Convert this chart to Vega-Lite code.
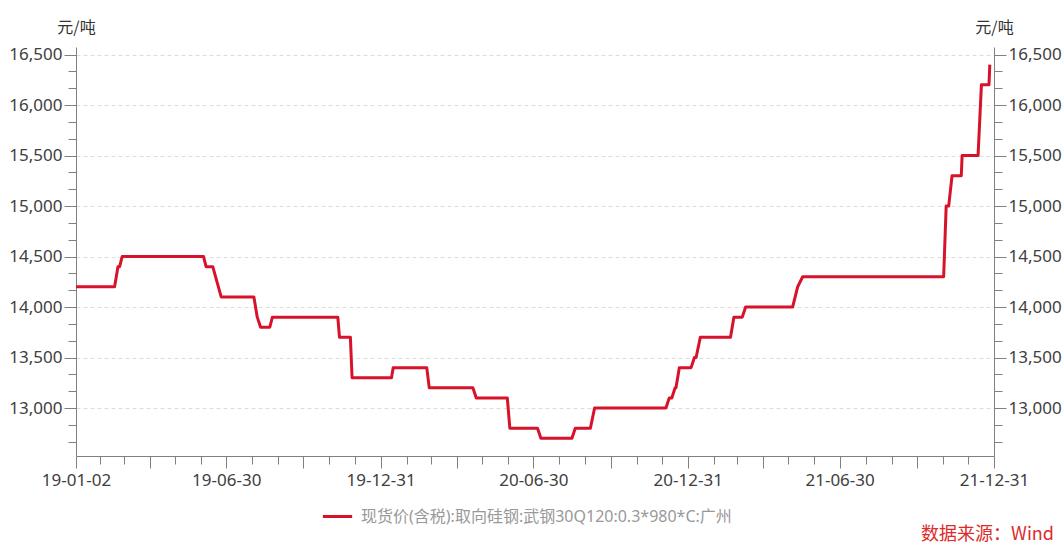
{
  "$schema": "https://vega.github.io/schema/vega-lite/v6.json",
  "width": 918,
  "height": 409,
  "autosize": {"type": "none"},
  "padding": {"left": 76, "top": 47, "right": 68, "bottom": 91},
  "background": "white",
  "title": {"text": "数据来源：Wind", "orient": "bottom", "anchor": "end", "frame": "group", "color": "#dd2a2a", "font": "Noto Sans CJK SC", "fontSize": 18, "fontWeight": "normal", "dx": 60, "offset": 1},
  "config": {"view": {"stroke": null}},
  "data": {"values": [
    {"date": "2019-01-02", "price": 14200},
    {"date": "2019-02-17", "price": 14200},
    {"date": "2019-02-21", "price": 14400},
    {"date": "2019-02-23", "price": 14400},
    {"date": "2019-02-26", "price": 14500},
    {"date": "2019-06-03", "price": 14500},
    {"date": "2019-06-06", "price": 14400},
    {"date": "2019-06-14", "price": 14400},
    {"date": "2019-06-24", "price": 14100},
    {"date": "2019-08-02", "price": 14100},
    {"date": "2019-08-06", "price": 13900},
    {"date": "2019-08-10", "price": 13800},
    {"date": "2019-08-21", "price": 13800},
    {"date": "2019-08-24", "price": 13900},
    {"date": "2019-11-10", "price": 13900},
    {"date": "2019-11-12", "price": 13700},
    {"date": "2019-11-25", "price": 13700},
    {"date": "2019-11-27", "price": 13300},
    {"date": "2020-01-13", "price": 13300},
    {"date": "2020-01-15", "price": 13400},
    {"date": "2020-02-24", "price": 13400},
    {"date": "2020-02-27", "price": 13200},
    {"date": "2020-04-19", "price": 13200},
    {"date": "2020-04-23", "price": 13100},
    {"date": "2020-05-30", "price": 13100},
    {"date": "2020-06-02", "price": 12800},
    {"date": "2020-07-05", "price": 12800},
    {"date": "2020-07-09", "price": 12700},
    {"date": "2020-08-15", "price": 12700},
    {"date": "2020-08-19", "price": 12800},
    {"date": "2020-09-06", "price": 12800},
    {"date": "2020-09-11", "price": 13000},
    {"date": "2020-12-05", "price": 13000},
    {"date": "2020-12-09", "price": 13100},
    {"date": "2020-12-12", "price": 13100},
    {"date": "2020-12-16", "price": 13200},
    {"date": "2020-12-17", "price": 13200},
    {"date": "2020-12-21", "price": 13400},
    {"date": "2021-01-04", "price": 13400},
    {"date": "2021-01-08", "price": 13500},
    {"date": "2021-01-10", "price": 13500},
    {"date": "2021-01-15", "price": 13700},
    {"date": "2021-02-20", "price": 13700},
    {"date": "2021-02-24", "price": 13900},
    {"date": "2021-03-06", "price": 13900},
    {"date": "2021-03-10", "price": 14000},
    {"date": "2021-05-05", "price": 14000},
    {"date": "2021-05-11", "price": 14200},
    {"date": "2021-05-17", "price": 14300},
    {"date": "2021-11-01", "price": 14300},
    {"date": "2021-11-04", "price": 15000},
    {"date": "2021-11-07", "price": 15000},
    {"date": "2021-11-11", "price": 15300},
    {"date": "2021-11-22", "price": 15300},
    {"date": "2021-11-23", "price": 15500},
    {"date": "2021-12-12", "price": 15500},
    {"date": "2021-12-16", "price": 16200},
    {"date": "2021-12-25", "price": 16200},
    {"date": "2021-12-26", "price": 16400}
  ]},
  "layer": [
    {
      "mark": {"type": "line", "strokeWidth": 3, "strokeJoin": "round"},
      "encoding": {
        "x": {"field": "date", "type": "temporal",
          "scale": {"type": "utc", "domain": [{"year": 2019, "month": 1, "date": 2, "utc": true}, {"year": 2021, "month": 12, "date": 31, "utc": true}]},
          "axis": {"orient": "bottom", "title": null, "grid": false,
            "values": [
              {"year": 2019, "month": 1, "date": 2, "utc": true},
              {"year": 2019, "month": 3, "date": 31, "utc": true},
              {"year": 2019, "month": 6, "date": 30, "utc": true},
              {"year": 2019, "month": 9, "date": 30, "utc": true},
              {"year": 2019, "month": 12, "date": 31, "utc": true},
              {"year": 2020, "month": 3, "date": 31, "utc": true},
              {"year": 2020, "month": 6, "date": 30, "utc": true},
              {"year": 2020, "month": 9, "date": 30, "utc": true},
              {"year": 2020, "month": 12, "date": 31, "utc": true},
              {"year": 2021, "month": 3, "date": 31, "utc": true},
              {"year": 2021, "month": 6, "date": 30, "utc": true},
              {"year": 2021, "month": 9, "date": 30, "utc": true},
              {"year": 2021, "month": 12, "date": 31, "utc": true}
            ],
            "labelExpr": "(utcmonth(datum.value) == 2 || utcmonth(datum.value) == 8) ? '' : utcFormat(datum.value, '%y-%m-%d')",
            "tickSize": 12, "tickColor": "#808080", "domainColor": "#808080",
            "labelFont": "Noto Sans", "labelFontSize": 17, "labelColor": "#404040", "labelPadding": 4,
            "labelFlush": false, "labelOverlap": false, "labelBound": false}
        },
        "y": {"field": "price", "type": "quantitative",
          "scale": {"domain": [12525, 16575], "zero": false, "nice": false},
          "axis": {"orient": "left",
            "values": [13000, 13500, 14000, 14500, 15000, 15500, 16000, 16500],
            "format": ",.0f", "tickSize": 12, "tickColor": "#808080", "domainColor": "#808080",
            "labelFont": "Noto Sans", "labelFontSize": 17, "labelColor": "#404040", "labelPadding": 2,
            "grid": true, "gridColor": "#dcdcdc", "gridDash": [4, 3],
            "title": "元/吨", "titleAngle": 0, "titleX": 0, "titleY": -20, "titleAlign": "center", "titleBaseline": "middle",
            "titleFont": "Noto Sans CJK SC", "titleFontSize": 16, "titleFontWeight": "normal", "titleColor": "#333333"}
        },
        "color": {"datum": "现货价(含税):取向硅钢:武钢30Q120:0.3*980*C:广州",
          "scale": {"range": ["#D7132B"]},
          "legend": {"orient": "none", "legendX": 245, "legendY": 453, "title": null, "padding": 0,
            "symbolType": "stroke", "symbolSize": 860, "symbolStrokeWidth": 3,
            "labelFont": "'Noto Sans', 'Noto Sans CJK SC'", "labelFontSize": 16, "labelColor": "#999999",
            "labelLimit": 1000, "labelOffset": 7}
        }
      }
    },
    {
      "mark": {"type": "line", "opacity": 0},
      "encoding": {
        "x": {"field": "date", "type": "temporal",
          "axis": {"orient": "bottom", "title": null, "grid": false, "labels": false, "domain": false,
            "values": [
              {"year": 2019, "month": 1, "date": 31, "utc": true},
              {"year": 2019, "month": 2, "date": 28, "utc": true},
              {"year": 2019, "month": 4, "date": 30, "utc": true},
              {"year": 2019, "month": 5, "date": 31, "utc": true},
              {"year": 2019, "month": 7, "date": 31, "utc": true},
              {"year": 2019, "month": 8, "date": 31, "utc": true},
              {"year": 2019, "month": 10, "date": 31, "utc": true},
              {"year": 2019, "month": 11, "date": 30, "utc": true},
              {"year": 2020, "month": 1, "date": 31, "utc": true},
              {"year": 2020, "month": 2, "date": 29, "utc": true},
              {"year": 2020, "month": 4, "date": 30, "utc": true},
              {"year": 2020, "month": 5, "date": 31, "utc": true},
              {"year": 2020, "month": 7, "date": 31, "utc": true},
              {"year": 2020, "month": 8, "date": 31, "utc": true},
              {"year": 2020, "month": 10, "date": 31, "utc": true},
              {"year": 2020, "month": 11, "date": 30, "utc": true},
              {"year": 2021, "month": 1, "date": 31, "utc": true},
              {"year": 2021, "month": 2, "date": 28, "utc": true},
              {"year": 2021, "month": 4, "date": 30, "utc": true},
              {"year": 2021, "month": 5, "date": 31, "utc": true},
              {"year": 2021, "month": 7, "date": 31, "utc": true},
              {"year": 2021, "month": 8, "date": 31, "utc": true},
              {"year": 2021, "month": 10, "date": 31, "utc": true},
              {"year": 2021, "month": 11, "date": 30, "utc": true}
            ],
            "tickSize": 8, "tickColor": "#808080"}
        },
        "y": {"field": "price", "type": "quantitative",
          "axis": {"orient": "left", "title": null, "grid": false, "labels": false, "domain": false,
            "values": [12666.67, 12833.33, 13166.67, 13333.33, 13666.67, 13833.33, 14166.67, 14333.33, 14666.67, 14833.33, 15166.67, 15333.33, 15666.67, 15833.33, 16166.67, 16333.33],
            "tickSize": 8, "tickColor": "#808080"}
        }
      }
    },
    {
      "mark": {"type": "line", "opacity": 0},
      "encoding": {
        "x": {"field": "date", "type": "temporal", "axis": null},
        "y": {"field": "price", "type": "quantitative",
          "axis": {"orient": "right",
            "values": [13000, 13500, 14000, 14500, 15000, 15500, 16000, 16500],
            "format": ",.0f", "tickSize": 12, "tickColor": "#808080", "domainColor": "#808080",
            "labelFont": "Noto Sans", "labelFontSize": 17, "labelColor": "#404040", "labelPadding": 2,
            "grid": false,
            "title": "元/吨", "titleAngle": 0, "titleX": 0, "titleY": -20, "titleAlign": "center", "titleBaseline": "middle",
            "titleFont": "Noto Sans CJK SC", "titleFontSize": 16, "titleFontWeight": "normal", "titleColor": "#333333"}
        }
      }
    },
    {
      "mark": {"type": "line", "opacity": 0},
      "encoding": {
        "x": {"field": "date", "type": "temporal", "axis": null},
        "y": {"field": "price", "type": "quantitative",
          "axis": {"orient": "right", "title": null, "grid": false, "labels": false, "domain": false,
            "values": [12666.67, 12833.33, 13166.67, 13333.33, 13666.67, 13833.33, 14166.67, 14333.33, 14666.67, 14833.33, 15166.67, 15333.33, 15666.67, 15833.33, 16166.67, 16333.33],
            "tickSize": 8, "tickColor": "#808080"}
        }
      }
    }
  ],
  "resolve": {"axis": {"x": "independent", "y": "independent"}}
}
